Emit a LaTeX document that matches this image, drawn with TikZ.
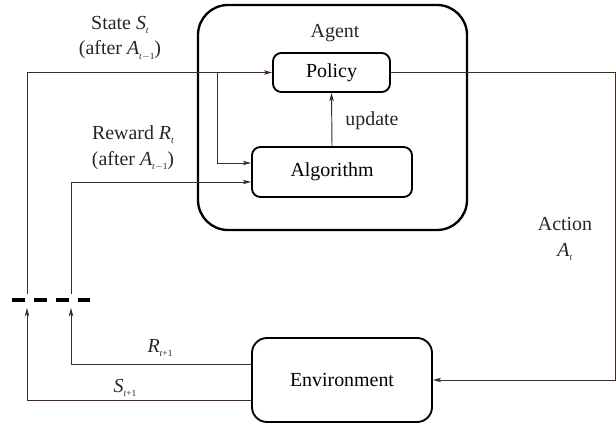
\documentclass[tikz,border=0pt]{standalone}
\usepackage{fontspec}
\setmainfont{Liberation Serif}
\usetikzlibrary{arrows.meta,positioning}
\definecolor{wirec}{HTML}{3D2B27}
\newcommand{\ivar}[2]{\textit{#1}\raisebox{-0.45ex}{\footnotesize#2}}
\begin{document}
\begin{tikzpicture}[x=0.03cm,y=-0.03cm,>={Stealth[length=7pt,width=3.8pt,inset=1.8pt]},
		box/.style={draw,line width=1.6pt,rounded corners=0.25cm,font=\fontsize{17}{20}\selectfont},
		wire/.style={draw=wirec,line width=0.8pt},
		lbl/.style={font=\fontsize{17}{22}\selectfont,align=center,text=black!85}]
	\def\px{0.8536pt}
	\useasboundingbox (0,0) rectangle (616,423);
	% boxes
	\node[box,line width=2pt,rounded corners=0.9cm,minimum width=8.07cm,minimum height=6.75cm] (agent) at (332.5,117.5) {};
	\node[lbl] (agentlbl) at (335,33) {Agent};
	\node[box,minimum width=3.51cm,minimum height=1.17cm] (policy) at (331.5,72.5) {Policy};
	\node[box,minimum width=4.8cm,minimum height=1.5cm] (algo) at (332,172) {Algorithm};
	\node[box,rounded corners=0.45cm,minimum width=5.4cm,minimum height=2.52cm] (env) at (342,380) {Environment};
	% labels
	\node[lbl] (statelbl) at (120,38) {State \ivar{S}{\textit{t}}\\(after \ivar{A}{\textit{t}$-$1})};
	\node[lbl] (rewardlbl) at (133,148) {Reward \ivar{R}{\textit{t}}\\(after \ivar{A}{\textit{t}$-$1})};
	\node[lbl] (actionlbl) at (565,239) {Action\\\ivar{A}{\textit{t}}};
	\node[lbl] (updatelbl) at (372,121) {update};
	\node[lbl] (rnext) at (160,348) {\ivar{R}{\textit{t}+1}};
	\node[lbl] (snext) at (125,388) {\ivar{S}{\textit{t}+1}};
	% gate
	\coordinate (sup) at (27,294);
	\coordinate (rup) at (71,294);
	\coordinate (sdn) at (27,308);
	\coordinate (rdn) at (71,308);
	\coordinate (split) at (217,72.5);
	\coordinate (act) at (615,72.5);
	\draw[line width=3.4pt,dash pattern=on 11pt off 7.7pt] (12,300) -- (90,300);
	% connectors
	\draw[wire,->] (sup) |- (policy.west);
	\draw[wire,->] (split) |- ([yshift=9*\px]algo.west);
	\draw[wire,->] (rup) |- ([yshift=-10*\px]algo.west);
	\draw[wire,->] (algo.north) -- (policy.south);
	\draw[wire,->] (policy.east) -- (act) |- (env.east);
	\draw[wire,->] ([yshift=16*\px]env.west) -| (rdn);
	\draw[wire,->] ([yshift=-20*\px]env.west) -| (sdn);
\end{tikzpicture}
\end{document}
